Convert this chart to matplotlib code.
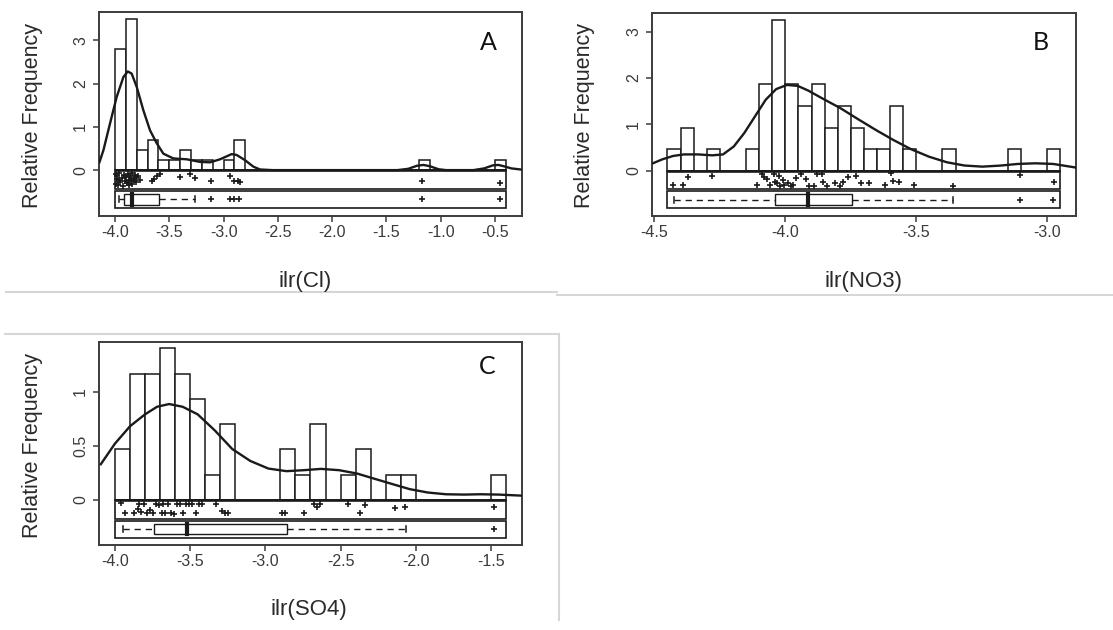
import matplotlib
matplotlib.use("Agg")
import matplotlib.pyplot as plt
from matplotlib.patches import Rectangle
from matplotlib.lines import Line2D

plt.rcParams['font.family'] = ['Liberation Sans', 'DejaVu Sans']

W, H = 1113, 630

# ---------------- ilr(Cl) ----------------
CL_BIN_WIDTH = 0.1
CL_BIN_LEFT = [-4.0, -3.9, -3.8, -3.7, -3.6, -3.5, -3.4, -3.3, -3.2, -3.0, -2.9, -1.2, -0.5]
CL_DENSITY = [2.79, 3.49, 0.47, 0.70, 0.23, 0.23, 0.47, 0.23, 0.23, 0.23, 0.70, 0.23, 0.23]
CL_CURVE_X = [-4.144, -4.107, -4.046, -3.985, -3.923, -3.883, -3.847, -3.80, -3.739, -3.678,
              -3.616, -3.555, -3.463, -3.34, -3.217, -3.125, -3.033, -2.926, -2.88, -2.803,
              -2.726, -2.665, -2.55, -1.40, -1.30, -1.22, -1.16, -1.10, -1.02, -0.95,
              -0.70, -0.60, -0.52, -0.47, -0.42, -0.35, -0.249]
CL_CURVE_Y = [0.18, 0.46, 1.08, 1.69, 2.15, 2.28, 2.23, 1.92, 1.38, 0.92,
              0.62, 0.38, 0.27, 0.25, 0.19, 0.18, 0.25, 0.37, 0.35, 0.23,
              0.08, 0.015, 0.0, 0.0, 0.03, 0.10, 0.12, 0.09, 0.02, 0.0,
              0.0, 0.04, 0.11, 0.12, 0.09, 0.04, 0.01]
CL_VALUES = [-3.995, -3.99, -3.985, -3.98, -3.97, -3.965, -3.96, -3.95, -3.94, -3.93, -3.92, -3.91,
             -3.895, -3.89, -3.88, -3.875, -3.87, -3.86, -3.855, -3.85, -3.845, -3.84, -3.83,
             -3.825, -3.82, -3.81, -3.805, -3.79, -3.77, -3.66, -3.64, -3.61,
             -3.585, -3.40, -3.31, -3.26, -3.12, -2.94, -2.90, -2.87, -2.85, -1.17, -0.45]
CL_JITTER = [0.2, 0.75, 0.45, 0.3, 0.8, 0.55, 0.15, 0.65, 0.4, 0.85, 0.25, 0.6,
             0.35, 0.7, 0.2, 0.5, 0.8, 0.3, 0.6, 0.45, 0.15, 0.75, 0.4, 0.55, 0.25, 0.65, 0.35,
             0.3, 0.5, 0.6, 0.45, 0.3,
             0.2, 0.35, 0.2, 0.4, 0.6, 0.33, 0.6, 0.6, 0.62, 0.6, 0.7]
CL_BOX = [-3.96, -3.914, -3.84, -3.595, -3.263]
CL_OUTLIERS = [-3.12, -2.94, -2.90, -2.86, -1.17, -0.45]
CL_SPAN = [-4.0, -0.4]
CL_XTICKS = [-4.0, -3.5, -3.0, -2.5, -2.0, -1.5, -1.0, -0.5]
CL_YTICKS = [0, 1, 2, 3]

# ---------------- ilr(NO3) ----------------
NO3_BIN_WIDTH = 0.05
NO3_BIN_LEFT = [-4.45, -4.40, -4.30, -4.15, -4.10, -4.05, -4.00, -3.95, -3.90, -3.85,
                -3.80, -3.75, -3.70, -3.65, -3.60, -3.55, -3.40, -3.15, -3.00]
NO3_DENSITY = [0.47, 0.93, 0.47, 0.47, 1.86, 3.26, 1.86, 1.40, 1.86, 0.93,
               1.40, 0.93, 0.47, 0.47, 1.40, 0.47, 0.47, 0.47, 0.47]
NO3_CURVE_X = [-4.505, -4.469, -4.428, -4.387, -4.333, -4.279, -4.238, -4.197, -4.157, -4.116,
               -4.075, -4.035, -3.994, -3.953, -3.913, -3.859, -3.79, -3.722, -3.655, -3.587,
               -3.519, -3.451, -3.383, -3.316, -3.248, -3.18, -3.112, -3.045, -2.977, -2.889]
NO3_CURVE_Y = [0.16, 0.245, 0.317, 0.35, 0.35, 0.33, 0.35, 0.52, 0.81, 1.17,
               1.53, 1.76, 1.85, 1.83, 1.73, 1.56, 1.35, 1.11, 0.88, 0.66,
               0.46, 0.30, 0.18, 0.11, 0.086, 0.108, 0.144, 0.158, 0.144, 0.065]
NO3_VALUES = [-4.43, -4.39, -4.37, -4.28, -4.11, -4.09, -4.08, -4.07, -4.06, -4.045,
              -4.04, -4.03, -4.025, -4.02, -4.01, -4.005, -3.99, -3.98, -3.97, -3.96,
              -3.94, -3.92, -3.91, -3.89, -3.88, -3.86, -3.855, -3.84, -3.81, -3.79,
              -3.78, -3.76, -3.73, -3.71, -3.68, -3.62, -3.595, -3.59, -3.565, -3.51,
              -3.36, -3.105, -2.975]
NO3_JITTER = [0.77, 0.77, 0.36, 0.27, 0.77, 0.18, 0.32, 0.46, 0.77, 0.18,
              0.59, 0.68, 0.29, 0.82, 0.5, 0.77, 0.68, 0.82, 0.77, 0.41,
              0.18, 0.46, 0.82, 0.82, 0.18, 0.18, 0.59, 0.82, 0.68, 0.82,
              0.59, 0.36, 0.27, 0.64, 0.64, 0.77, 0.11, 0.54, 0.59, 0.77,
              0.82, 0.23, 0.62]
NO3_BOX = [-4.425, -4.039, -3.914, -3.744, -3.361]
NO3_OUTLIERS = [-3.104, -2.979]
NO3_SPAN = [-4.45, -2.95]
NO3_XTICKS = [-4.5, -4.0, -3.5, -3.0]
NO3_YTICKS = [0, 1, 2, 3]

# ---------------- ilr(SO4) ----------------
SO4_BIN_WIDTH = 0.1
SO4_BIN_LEFT = [-4.0, -3.9, -3.8, -3.7, -3.6, -3.5, -3.4, -3.3, -2.9, -2.8, -2.7,
                -2.5, -2.4, -2.2, -2.1, -1.5]
SO4_DENSITY = [0.47, 1.16, 1.16, 1.40, 1.16, 0.93, 0.23, 0.70, 0.47, 0.23, 0.70,
               0.23, 0.47, 0.23, 0.23, 0.23]
SO4_CURVE_X = [-4.094, -4.0, -3.9, -3.8, -3.72, -3.64, -3.55, -3.45, -3.335, -3.22,
               -3.10, -2.98, -2.86, -2.745, -2.63, -2.51, -2.39, -2.27, -2.156, -2.04,
               -1.92, -1.80, -1.68, -1.57, -1.45, -1.292]
SO4_CURVE_Y = [0.33, 0.52, 0.68, 0.79, 0.86, 0.885, 0.86, 0.79, 0.64, 0.47,
               0.36, 0.29, 0.266, 0.275, 0.287, 0.275, 0.244, 0.194, 0.147, 0.10,
               0.069, 0.053, 0.05, 0.053, 0.05, 0.04]
SO4_VALUES = [-3.96, -3.93, -3.87, -3.85, -3.84, -3.83, -3.81, -3.79, -3.77, -3.75,
              -3.73, -3.71, -3.69, -3.68, -3.67, -3.65, -3.63, -3.61, -3.59, -3.57,
              -3.55, -3.53, -3.51, -3.49, -3.46, -3.44, -3.42, -3.33, -3.29, -3.27,
              -3.25, -2.89, -2.87, -2.74, -2.68, -2.66, -2.64, -2.45, -2.37, -2.34,
              -2.14, -2.07, -1.48]
SO4_JITTER = [0.18, 0.7, 0.72, 0.5, 0.2, 0.65, 0.2, 0.7, 0.55, 0.7,
              0.2, 0.25, 0.7, 0.2, 0.72, 0.2, 0.7, 0.75, 0.2, 0.2,
              0.7, 0.2, 0.22, 0.2, 0.72, 0.2, 0.22, 0.2, 0.6, 0.7,
              0.7, 0.7, 0.7, 0.7, 0.2, 0.35, 0.22, 0.22, 0.7, 0.25,
              0.45, 0.4, 0.35]
SO4_BOX = [-3.949, -3.739, -3.519, -2.854, -2.065]
SO4_OUTLIERS = [-1.478]
SO4_SPAN = [-4.0, -1.4]
SO4_XTICKS = [-4.0, -3.5, -3.0, -2.5, -2.0, -1.5]
SO4_YTICKS = [0, 0.5, 1]

INK = '#1a1a1a'
FRAME = '#3c3c3c'
TEXT = '#2a2a2a'


def px_rect(left, top, right, bottom):
    return [left / W, 1 - bottom / H, (right - left) / W, (bottom - top) / H]


def draw_panel(ax, bin_left, density, width, curve_x, curve_y, values, jitter,
               box, outliers, span, xticks, yticks, xlim, ylim):
    ax.set_xlim(xlim)
    ax.set_ylim(ylim)
    h = ylim[1] - ylim[0]
    r1 = 0.092 * h
    gap = 0.009 * h
    r2 = 0.084 * h

    # histogram bars and the zero line under them
    ax.bar(bin_left, density, width=width, align='edge', facecolor='white',
           edgecolor=INK, linewidth=1.1, zorder=2)
    ax.plot(span, [0, 0], color=INK, lw=1.9, zorder=3, solid_capstyle='butt')
    ax.plot(curve_x, curve_y, color=INK, lw=1.7, zorder=4)

    # strip with jittered raw values
    ax.add_patch(Rectangle((span[0], -r1), span[1] - span[0], r1, fill=False,
                           ec=INK, lw=1.2, zorder=3))
    ax.plot(values, [-r1 * j for j in jitter], ls='none', marker='+', ms=5,
            mew=1.2, color=INK, zorder=4)

    # box-and-whisker row
    y2 = -r1 - gap - r2
    ax.add_patch(Rectangle((span[0], y2), span[1] - span[0], r2, fill=False,
                           ec=INK, lw=1.2, zorder=3))
    yc = y2 + r2 / 2
    bh = 0.62 * r2
    whislo, q1, med, q3, whishi = box
    ax.add_patch(Rectangle((q1, yc - bh / 2), q3 - q1, bh, fill=False,
                           ec=INK, lw=1.0, zorder=4))
    ax.plot([med, med], [yc - bh / 2, yc + bh / 2], color=INK, lw=3.0, zorder=5)
    for a, b in ((whislo, q1), (q3, whishi)):
        ax.plot([a, b], [yc, yc], color=INK, lw=1.0, dashes=(4.5, 3.5), zorder=4)
    for c in (whislo, whishi):
        ax.plot([c, c], [yc - 0.17 * r2, yc + 0.17 * r2], color=INK, lw=1.1, zorder=4)
    ax.plot(outliers, [yc] * len(outliers), ls='none', marker='+', ms=5,
            mew=1.2, color=INK, zorder=4)

    for s in ax.spines.values():
        s.set_color(FRAME)
        s.set_linewidth(1.4)
    ax.set_xticks(xticks)
    ax.set_xticklabels([f"{v:.1f}" for v in xticks])
    ax.set_yticks(yticks)
    ax.set_yticklabels([f"{v:g}" for v in yticks], rotation=90, va='center')
    ax.tick_params(direction='out', length=4.5, width=1.1, color=FRAME,
                   labelcolor='#3a3a3a', labelsize=11.5)
    ax.tick_params(axis='x', pad=2.0)
    ax.tick_params(axis='y', pad=3.5)


fig = plt.figure(figsize=(W / 100, H / 100), dpi=100)

ax_a = fig.add_axes(px_rect(99.3, 11.7, 522.3, 216))
draw_panel(ax_a, CL_BIN_LEFT, CL_DENSITY, CL_BIN_WIDTH, CL_CURVE_X, CL_CURVE_Y,
           CL_VALUES, CL_JITTER, CL_BOX, CL_OUTLIERS, CL_SPAN, CL_XTICKS, CL_YTICKS,
           (-4.145, -0.249), (-1.06, 3.66))

ax_b = fig.add_axes(px_rect(652.3, 12.7, 1076, 216))
draw_panel(ax_b, NO3_BIN_LEFT, NO3_DENSITY, NO3_BIN_WIDTH, NO3_CURVE_X, NO3_CURVE_Y,
           NO3_VALUES, NO3_JITTER, NO3_BOX, NO3_OUTLIERS, NO3_SPAN, NO3_XTICKS, NO3_YTICKS,
           (-4.508, -2.89), (-0.98, 3.41))

ax_c = fig.add_axes(px_rect(99.3, 341.7, 522.3, 545))
draw_panel(ax_c, SO4_BIN_LEFT, SO4_DENSITY, SO4_BIN_WIDTH, SO4_CURVE_X, SO4_CURVE_Y,
           SO4_VALUES, SO4_JITTER, SO4_BOX, SO4_OUTLIERS, SO4_SPAN, SO4_XTICKS, SO4_YTICKS,
           (-4.104, -1.292), (-0.415, 1.46))


def fig_text(x, y, s, **kw):
    fig.text(x / W, 1 - y / H, s, ha='center', va='center', **kw)


# axis titles and panel letters
for x, y in ((33, 115), (585, 115), (33, 445)):
    fig_text(x, y, 'Relative Frequency', rotation=90, fontsize=15.5, color=TEXT)
fig_text(305, 281, 'ilr(Cl)', fontsize=16, color=TEXT)
fig_text(864, 282, 'ilr(NO3)', fontsize=16, color=TEXT)
fig_text(309, 610, 'ilr(SO4)', fontsize=16, color=TEXT)
for x, y, s in ((488, 43, 'A'), (1041, 43, 'B'), (487, 367, 'C')):
    fig_text(x, y, s, fontsize=18, family=['Lato', 'DejaVu Sans'], color='#111111')

# thin grey rules between the pasted panels
for (x0, y0), (x1, y1) in (((6, 292), (557, 292)), ((557, 295), (1113, 295)),
                           ((5, 334), (559, 334)), ((559, 334), (559, 620))):
    fig.add_artist(Line2D([x0 / W, x1 / W], [1 - y0 / H, 1 - y1 / H],
                          transform=fig.transFigure, color='#d6d6d6', lw=1.5))

fig.savefig('out.png', dpi=100)
